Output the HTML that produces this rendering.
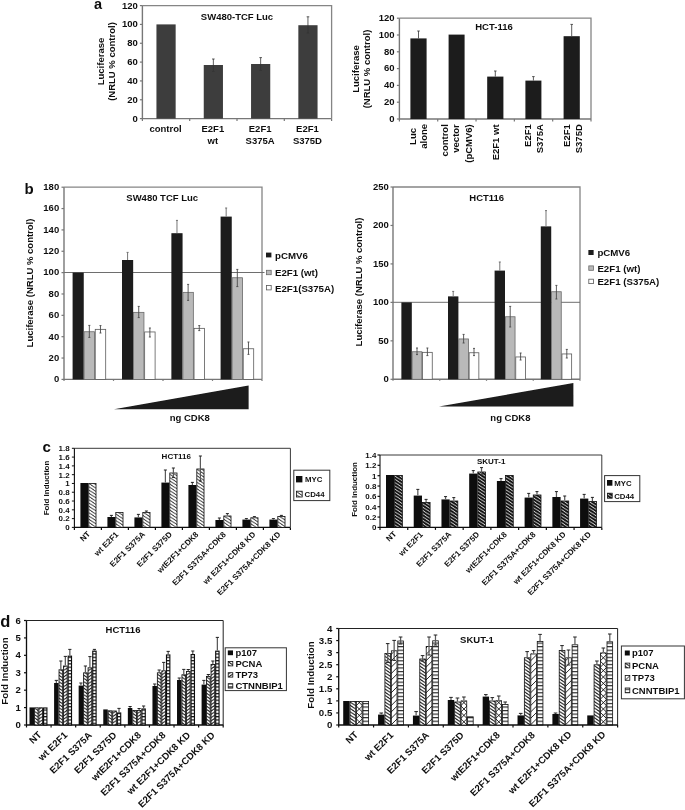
<!DOCTYPE html>
<html><head><meta charset="utf-8"><title>Figure</title>
<style>html,body{margin:0;padding:0;background:#fff;}svg{display:block;}text{font-family:"Liberation Sans",sans-serif;font-weight:bold;}</style>
</head><body>
<svg width="685" height="810" viewBox="0 0 685 810">
<rect width="685" height="810" fill="#fff"/>
<defs>
<filter id="soft" x="0" y="0" width="685" height="810" filterUnits="userSpaceOnUse"><feGaussianBlur stdDeviation="0.32"/></filter>
<pattern id="hc1" width="5" height="3.25" patternUnits="userSpaceOnUse"><rect width="5" height="3.25" fill="#fff"/><path d="M-5,-9.75 L10,0.00 M-5,-6.50 L10,3.25 M-5,-3.25 L10,6.50 M-5,0.00 L10,9.75 M-5,3.25 L10,13.00" stroke="#111" stroke-width="0.85"/></pattern>
<pattern id="hc2" width="5" height="3.25" patternUnits="userSpaceOnUse"><rect width="5" height="3.25" fill="#fff"/><path d="M-5,-9.75 L10,0.00 M-5,-6.50 L10,3.25 M-5,-3.25 L10,6.50 M-5,0.00 L10,9.75 M-5,3.25 L10,13.00" stroke="#111" stroke-width="2.0"/></pattern>
<pattern id="hd1" width="5" height="3.25" patternUnits="userSpaceOnUse"><rect width="5" height="3.25" fill="#fff"/><path d="M-5,-9.75 L10,0.00 M-5,-6.50 L10,3.25 M-5,-3.25 L10,6.50 M-5,0.00 L10,9.75 M-5,3.25 L10,13.00" stroke="#111" stroke-width="1.0"/></pattern>
<pattern id="hd2" width="5" height="3.25" patternUnits="userSpaceOnUse"><rect width="5" height="3.25" fill="#fff"/><path d="M-5,0.00 L10,-9.75 M-5,3.25 L10,-6.50 M-5,6.50 L10,-3.25 M-5,9.75 L10,0.00 M-5,13.00 L10,3.25" stroke="#111" stroke-width="1.0"/></pattern>
<pattern id="hd3" width="3.3" height="3.3" patternUnits="userSpaceOnUse"><rect width="3.3" height="3.3" fill="#fff"/><path d="M0,0.6 H3.3" stroke="#111" stroke-width="1.2"/></pattern>
<pattern id="he1" width="5" height="3.25" patternUnits="userSpaceOnUse"><rect width="5" height="3.25" fill="#fff"/><path d="M-5,-9.75 L10,0.00 M-5,-6.50 L10,3.25 M-5,-3.25 L10,6.50 M-5,0.00 L10,9.75 M-5,3.25 L10,13.00" stroke="#111" stroke-width="1.05"/></pattern>
<pattern id="he2" width="6.4" height="6.4" patternUnits="userSpaceOnUse"><rect width="6.4" height="6.4" fill="#fff"/><path d="M-1,7.4 L7.4,-1 M-1,1 L1,-1 M5.4,7.4 L7.4,5.4" stroke="#111" stroke-width="0.9"/></pattern>
<pattern id="he3" width="3.55" height="3.55" patternUnits="userSpaceOnUse"><rect width="3.55" height="3.55" fill="#fff"/><path d="M0,0.6 H3.55" stroke="#111" stroke-width="1.05"/></pattern>
</defs>
<g filter="url(#soft)">
<path d="M142.4,5.6 H331.6 V118.6" fill="none" stroke="#858585" stroke-width="1.3"/>
<path d="M142.4,5.6 V118.6 H331.6" fill="none" stroke="#777" stroke-width="1.4"/>
<line x1="139.9" y1="118.6" x2="142.4" y2="118.6" stroke="#777" stroke-width="1.2" />
<text x="137.8" y="121.62" font-size="9.5" text-anchor="end" fill="#111">0</text>
<line x1="139.9" y1="99.77" x2="142.4" y2="99.77" stroke="#777" stroke-width="1.2" />
<text x="137.8" y="102.79" font-size="9.5" text-anchor="end" fill="#111">20</text>
<line x1="139.9" y1="80.93" x2="142.4" y2="80.93" stroke="#777" stroke-width="1.2" />
<text x="137.8" y="83.95" font-size="9.5" text-anchor="end" fill="#111">40</text>
<line x1="139.9" y1="62.1" x2="142.4" y2="62.1" stroke="#777" stroke-width="1.2" />
<text x="137.8" y="65.12" font-size="9.5" text-anchor="end" fill="#111">60</text>
<line x1="139.9" y1="43.27" x2="142.4" y2="43.27" stroke="#777" stroke-width="1.2" />
<text x="137.8" y="46.29" font-size="9.5" text-anchor="end" fill="#111">80</text>
<line x1="139.9" y1="24.43" x2="142.4" y2="24.43" stroke="#777" stroke-width="1.2" />
<text x="137.8" y="27.45" font-size="9.5" text-anchor="end" fill="#111">100</text>
<line x1="139.9" y1="5.6" x2="142.4" y2="5.6" stroke="#777" stroke-width="1.2" />
<text x="137.8" y="8.62" font-size="9.5" text-anchor="end" fill="#111">120</text>
<line x1="142.4" y1="118.6" x2="142.4" y2="121.1" stroke="#777" stroke-width="1.2" />
<line x1="189.7" y1="118.6" x2="189.7" y2="121.1" stroke="#777" stroke-width="1.2" />
<line x1="237" y1="118.6" x2="237" y2="121.1" stroke="#777" stroke-width="1.2" />
<line x1="284.3" y1="118.6" x2="284.3" y2="121.1" stroke="#777" stroke-width="1.2" />
<line x1="331.6" y1="118.6" x2="331.6" y2="121.1" stroke="#777" stroke-width="1.2" />
<rect x="156.45" y="24.4" width="19.2" height="94.2" fill="#3d3d3d"/>
<rect x="203.75" y="65" width="19.2" height="53.6" fill="#3d3d3d"/>
<line x1="213.35" y1="59" x2="213.35" y2="71.5" stroke="#333" stroke-width="0.8" />
<line x1="212.05" y1="59" x2="214.65" y2="59" stroke="#333" stroke-width="0.8" />
<line x1="212.05" y1="71.5" x2="214.65" y2="71.5" stroke="#333" stroke-width="0.8" />
<rect x="251.05" y="64" width="19.2" height="54.6" fill="#3d3d3d"/>
<line x1="260.65" y1="57.6" x2="260.65" y2="70.4" stroke="#333" stroke-width="0.8" />
<line x1="259.35" y1="57.6" x2="261.95" y2="57.6" stroke="#333" stroke-width="0.8" />
<line x1="259.35" y1="70.4" x2="261.95" y2="70.4" stroke="#333" stroke-width="0.8" />
<rect x="298.35" y="25.2" width="19.2" height="93.4" fill="#3d3d3d"/>
<line x1="307.95" y1="16.8" x2="307.95" y2="33" stroke="#333" stroke-width="0.8" />
<line x1="306.65" y1="16.8" x2="309.25" y2="16.8" stroke="#333" stroke-width="0.8" />
<line x1="306.65" y1="33" x2="309.25" y2="33" stroke="#333" stroke-width="0.8" />
<text x="237" y="20.02" font-size="9.5" text-anchor="middle" fill="#111">SW480-TCF Luc</text>
<text x="165.55" y="132.42" font-size="9.5" text-anchor="middle" fill="#111">control</text>
<text x="212.85" y="132.42" font-size="9.5" text-anchor="middle" fill="#111">E2F1</text>
<text x="212.85" y="143.52" font-size="9.5" text-anchor="middle" fill="#111">wt</text>
<text x="260.15" y="132.42" font-size="9.5" text-anchor="middle" fill="#111">E2F1</text>
<text x="260.15" y="143.52" font-size="9.5" text-anchor="middle" fill="#111">S375A</text>
<text x="307.45" y="132.42" font-size="9.5" text-anchor="middle" fill="#111">E2F1</text>
<text x="307.45" y="143.52" font-size="9.5" text-anchor="middle" fill="#111">S375D</text>
<text x="103.52" y="61.5" font-size="9.5" text-anchor="middle" fill="#111" transform="rotate(-90 103.52 61.5)">Luciferase</text>
<text x="114.72" y="61.5" font-size="9.5" text-anchor="middle" fill="#111" transform="rotate(-90 114.72 61.5)">(NRLU % control)</text>
<text x="94" y="8.8" font-size="14.5" text-anchor="start" fill="#111">a</text>
<path d="M399.4,18.2 H591 V119" fill="none" stroke="#858585" stroke-width="1.3"/>
<path d="M399.4,18.2 V119 H591" fill="none" stroke="#777" stroke-width="1.4"/>
<line x1="396.9" y1="119" x2="399.4" y2="119" stroke="#777" stroke-width="1.2" />
<text x="394.6" y="121.82" font-size="9.5" text-anchor="end" fill="#111">0</text>
<line x1="396.9" y1="102.2" x2="399.4" y2="102.2" stroke="#777" stroke-width="1.2" />
<text x="394.6" y="105.02" font-size="9.5" text-anchor="end" fill="#111">20</text>
<line x1="396.9" y1="85.4" x2="399.4" y2="85.4" stroke="#777" stroke-width="1.2" />
<text x="394.6" y="88.22" font-size="9.5" text-anchor="end" fill="#111">40</text>
<line x1="396.9" y1="68.6" x2="399.4" y2="68.6" stroke="#777" stroke-width="1.2" />
<text x="394.6" y="71.42" font-size="9.5" text-anchor="end" fill="#111">60</text>
<line x1="396.9" y1="51.8" x2="399.4" y2="51.8" stroke="#777" stroke-width="1.2" />
<text x="394.6" y="54.62" font-size="9.5" text-anchor="end" fill="#111">80</text>
<line x1="396.9" y1="35" x2="399.4" y2="35" stroke="#777" stroke-width="1.2" />
<text x="394.6" y="37.82" font-size="9.5" text-anchor="end" fill="#111">100</text>
<line x1="396.9" y1="18.2" x2="399.4" y2="18.2" stroke="#777" stroke-width="1.2" />
<text x="394.6" y="21.02" font-size="9.5" text-anchor="end" fill="#111">120</text>
<line x1="399.4" y1="119" x2="399.4" y2="121.5" stroke="#777" stroke-width="1.2" />
<line x1="437.72" y1="119" x2="437.72" y2="121.5" stroke="#777" stroke-width="1.2" />
<line x1="476.04" y1="119" x2="476.04" y2="121.5" stroke="#777" stroke-width="1.2" />
<line x1="514.36" y1="119" x2="514.36" y2="121.5" stroke="#777" stroke-width="1.2" />
<line x1="552.68" y1="119" x2="552.68" y2="121.5" stroke="#777" stroke-width="1.2" />
<line x1="591" y1="119" x2="591" y2="121.5" stroke="#777" stroke-width="1.2" />
<rect x="410.4" y="38.4" width="16.2" height="80.6" fill="#1c1c1c"/>
<line x1="418.5" y1="31" x2="418.5" y2="38.4" stroke="#333" stroke-width="0.8" />
<line x1="417.2" y1="31" x2="419.8" y2="31" stroke="#333" stroke-width="0.8" />
<rect x="448.6" y="34.6" width="16" height="84.4" fill="#1c1c1c"/>
<rect x="487.2" y="76.6" width="16.2" height="42.4" fill="#1c1c1c"/>
<line x1="495.3" y1="71" x2="495.3" y2="76.6" stroke="#333" stroke-width="0.8" />
<line x1="494" y1="71" x2="496.6" y2="71" stroke="#333" stroke-width="0.8" />
<rect x="525.4" y="80.6" width="16" height="38.4" fill="#1c1c1c"/>
<line x1="533.4" y1="76.6" x2="533.4" y2="80.6" stroke="#333" stroke-width="0.8" />
<line x1="532.1" y1="76.6" x2="534.7" y2="76.6" stroke="#333" stroke-width="0.8" />
<rect x="563.6" y="36.2" width="16.2" height="82.8" fill="#1c1c1c"/>
<line x1="571.7" y1="24.4" x2="571.7" y2="36.2" stroke="#333" stroke-width="0.8" />
<line x1="570.4" y1="24.4" x2="573" y2="24.4" stroke="#333" stroke-width="0.8" />
<text x="494" y="30.42" font-size="9.5" text-anchor="middle" fill="#111">HCT-116</text>
<text x="358.82" y="69" font-size="9.5" text-anchor="middle" fill="#111" transform="rotate(-90 358.82 69)">Luciferase</text>
<text x="370.02" y="69" font-size="9.5" text-anchor="middle" fill="#111" transform="rotate(-90 370.02 69)">(NRLU % control)</text>
<text x="415.82" y="128" font-size="9.5" text-anchor="end" fill="#111" transform="rotate(-90 415.82 128)">Luc</text>
<text x="426.92" y="123.9" font-size="9.5" text-anchor="end" fill="#111" transform="rotate(-90 426.92 123.9)">alone</text>
<text x="448.22" y="124.2" font-size="9.5" text-anchor="end" fill="#111" transform="rotate(-90 448.22 124.2)">control</text>
<text x="459.22" y="124.2" font-size="9.5" text-anchor="end" fill="#111" transform="rotate(-90 459.22 124.2)">vector</text>
<text x="472.12" y="124.2" font-size="9.5" text-anchor="end" fill="#111" transform="rotate(-90 472.12 124.2)">(pCMV6)</text>
<text x="499.02" y="124.4" font-size="9.5" text-anchor="end" fill="#111" transform="rotate(-90 499.02 124.4)">E2F1 wt</text>
<text x="531.42" y="124.2" font-size="9.5" text-anchor="end" fill="#111" transform="rotate(-90 531.42 124.2)">E2F1</text>
<text x="543.42" y="124.2" font-size="9.5" text-anchor="end" fill="#111" transform="rotate(-90 543.42 124.2)">S375A</text>
<text x="570.02" y="124.2" font-size="9.5" text-anchor="end" fill="#111" transform="rotate(-90 570.02 124.2)">E2F1</text>
<text x="582.02" y="124.2" font-size="9.5" text-anchor="end" fill="#111" transform="rotate(-90 582.02 124.2)">S375D</text>
<path d="M64,187.2 H262 V379.4" fill="none" stroke="#858585" stroke-width="1.3"/>
<path d="M64,187.2 V379.4 H262" fill="none" stroke="#777" stroke-width="1.4"/>
<line x1="61.5" y1="379.4" x2="64" y2="379.4" stroke="#777" stroke-width="1.2" />
<text x="59.2" y="382.22" font-size="9.5" text-anchor="end" fill="#111">0</text>
<line x1="61.5" y1="358.04" x2="64" y2="358.04" stroke="#777" stroke-width="1.2" />
<text x="59.2" y="360.86" font-size="9.5" text-anchor="end" fill="#111">20</text>
<line x1="61.5" y1="336.69" x2="64" y2="336.69" stroke="#777" stroke-width="1.2" />
<text x="59.2" y="339.51" font-size="9.5" text-anchor="end" fill="#111">40</text>
<line x1="61.5" y1="315.33" x2="64" y2="315.33" stroke="#777" stroke-width="1.2" />
<text x="59.2" y="318.15" font-size="9.5" text-anchor="end" fill="#111">60</text>
<line x1="61.5" y1="293.98" x2="64" y2="293.98" stroke="#777" stroke-width="1.2" />
<text x="59.2" y="296.8" font-size="9.5" text-anchor="end" fill="#111">80</text>
<line x1="61.5" y1="272.62" x2="64" y2="272.62" stroke="#777" stroke-width="1.2" />
<text x="59.2" y="275.44" font-size="9.5" text-anchor="end" fill="#111">100</text>
<line x1="61.5" y1="251.27" x2="64" y2="251.27" stroke="#777" stroke-width="1.2" />
<text x="59.2" y="254.09" font-size="9.5" text-anchor="end" fill="#111">120</text>
<line x1="61.5" y1="229.91" x2="64" y2="229.91" stroke="#777" stroke-width="1.2" />
<text x="59.2" y="232.73" font-size="9.5" text-anchor="end" fill="#111">140</text>
<line x1="61.5" y1="208.56" x2="64" y2="208.56" stroke="#777" stroke-width="1.2" />
<text x="59.2" y="211.38" font-size="9.5" text-anchor="end" fill="#111">160</text>
<line x1="61.5" y1="187.2" x2="64" y2="187.2" stroke="#777" stroke-width="1.2" />
<text x="59.2" y="190.02" font-size="9.5" text-anchor="end" fill="#111">180</text>
<line x1="64" y1="379.4" x2="64" y2="380.9" stroke="#777" stroke-width="1.2" />
<line x1="113.5" y1="379.4" x2="113.5" y2="380.9" stroke="#777" stroke-width="1.2" />
<line x1="163" y1="379.4" x2="163" y2="380.9" stroke="#777" stroke-width="1.2" />
<line x1="212.5" y1="379.4" x2="212.5" y2="380.9" stroke="#777" stroke-width="1.2" />
<line x1="262" y1="379.4" x2="262" y2="380.9" stroke="#777" stroke-width="1.2" />
<line x1="64" y1="272.5" x2="264.5" y2="272.5" stroke="#6e6e6e" stroke-width="1" />
<rect x="72.6" y="272.6" width="11.15" height="106.8" fill="#1a1a1a"/>
<rect x="84.1" y="331.75" width="10.45" height="47.65" fill="#b9b9b9" stroke="#6a6a6a" stroke-width="0.8"/>
<line x1="89.33" y1="325.4" x2="89.33" y2="337.4" stroke="#4a4a4a" stroke-width="0.9" />
<line x1="88.33" y1="325.4" x2="90.33" y2="325.4" stroke="#4a4a4a" stroke-width="0.9" />
<line x1="88.33" y1="337.4" x2="90.33" y2="337.4" stroke="#4a4a4a" stroke-width="0.9" />
<rect x="95.25" y="329.35" width="10.45" height="50.05" fill="#fff" stroke="#5a5a5a" stroke-width="0.8"/>
<line x1="100.47" y1="325.6" x2="100.47" y2="333" stroke="#4a4a4a" stroke-width="0.9" />
<line x1="99.47" y1="325.6" x2="101.47" y2="325.6" stroke="#4a4a4a" stroke-width="0.9" />
<line x1="99.47" y1="333" x2="101.47" y2="333" stroke="#4a4a4a" stroke-width="0.9" />
<rect x="122" y="260" width="11.15" height="119.4" fill="#1a1a1a"/>
<line x1="127.58" y1="252.4" x2="127.58" y2="260" stroke="#666" stroke-width="0.9" />
<line x1="126.58" y1="252.4" x2="128.57" y2="252.4" stroke="#666" stroke-width="0.9" />
<rect x="133.5" y="312.35" width="10.45" height="67.05" fill="#b9b9b9" stroke="#6a6a6a" stroke-width="0.8"/>
<line x1="138.72" y1="306.4" x2="138.72" y2="317.6" stroke="#4a4a4a" stroke-width="0.9" />
<line x1="137.72" y1="306.4" x2="139.72" y2="306.4" stroke="#4a4a4a" stroke-width="0.9" />
<line x1="137.72" y1="317.6" x2="139.72" y2="317.6" stroke="#4a4a4a" stroke-width="0.9" />
<rect x="144.65" y="331.95" width="10.45" height="47.45" fill="#fff" stroke="#5a5a5a" stroke-width="0.8"/>
<line x1="149.88" y1="328" x2="149.88" y2="337" stroke="#4a4a4a" stroke-width="0.9" />
<line x1="148.88" y1="328" x2="150.88" y2="328" stroke="#4a4a4a" stroke-width="0.9" />
<line x1="148.88" y1="337" x2="150.88" y2="337" stroke="#4a4a4a" stroke-width="0.9" />
<rect x="171.4" y="233.2" width="11.15" height="146.2" fill="#1a1a1a"/>
<line x1="176.97" y1="220.4" x2="176.97" y2="233.2" stroke="#666" stroke-width="0.9" />
<line x1="175.97" y1="220.4" x2="177.97" y2="220.4" stroke="#666" stroke-width="0.9" />
<rect x="182.9" y="292.35" width="10.45" height="87.05" fill="#b9b9b9" stroke="#6a6a6a" stroke-width="0.8"/>
<line x1="188.12" y1="284.4" x2="188.12" y2="300.4" stroke="#4a4a4a" stroke-width="0.9" />
<line x1="187.12" y1="284.4" x2="189.12" y2="284.4" stroke="#4a4a4a" stroke-width="0.9" />
<line x1="187.12" y1="300.4" x2="189.12" y2="300.4" stroke="#4a4a4a" stroke-width="0.9" />
<rect x="194.05" y="328.35" width="10.45" height="51.05" fill="#fff" stroke="#5a5a5a" stroke-width="0.8"/>
<line x1="199.28" y1="325.6" x2="199.28" y2="330.6" stroke="#4a4a4a" stroke-width="0.9" />
<line x1="198.28" y1="325.6" x2="200.28" y2="325.6" stroke="#4a4a4a" stroke-width="0.9" />
<line x1="198.28" y1="330.6" x2="200.28" y2="330.6" stroke="#4a4a4a" stroke-width="0.9" />
<rect x="220.6" y="216.6" width="11.15" height="162.8" fill="#1a1a1a"/>
<line x1="226.17" y1="208" x2="226.17" y2="216.6" stroke="#666" stroke-width="0.9" />
<line x1="225.17" y1="208" x2="227.17" y2="208" stroke="#666" stroke-width="0.9" />
<rect x="232.1" y="277.75" width="10.45" height="101.65" fill="#b9b9b9" stroke="#6a6a6a" stroke-width="0.8"/>
<line x1="237.32" y1="269.4" x2="237.32" y2="286.6" stroke="#4a4a4a" stroke-width="0.9" />
<line x1="236.32" y1="269.4" x2="238.32" y2="269.4" stroke="#4a4a4a" stroke-width="0.9" />
<line x1="236.32" y1="286.6" x2="238.32" y2="286.6" stroke="#4a4a4a" stroke-width="0.9" />
<rect x="243.25" y="348.75" width="10.45" height="30.65" fill="#fff" stroke="#5a5a5a" stroke-width="0.8"/>
<line x1="248.47" y1="342" x2="248.47" y2="354.4" stroke="#4a4a4a" stroke-width="0.9" />
<line x1="247.47" y1="342" x2="249.47" y2="342" stroke="#4a4a4a" stroke-width="0.9" />
<line x1="247.47" y1="354.4" x2="249.47" y2="354.4" stroke="#4a4a4a" stroke-width="0.9" />
<text x="162.2" y="201.42" font-size="9.5" text-anchor="middle" fill="#111">SW480 TCF Luc</text>
<text x="32.82" y="283" font-size="9.5" text-anchor="middle" fill="#111" transform="rotate(-90 32.82 283)">Luciferase (NRLU % control)</text>
<polygon points="114,409.3 248.6,385.6 248.6,409.3" fill="#1a1a1a"/>
<text x="189.8" y="421.42" font-size="9.5" text-anchor="middle" fill="#111">ng CDK8</text>
<text x="24.6" y="194.2" font-size="15" text-anchor="start" fill="#111">b</text>
<rect x="266" y="252.6" width="5.4" height="4.8" fill="#1a1a1a"/>
<rect x="266.4" y="270.3" width="4.8" height="4.4" fill="#b9b9b9" stroke="#6a6a6a" stroke-width="0.8"/>
<rect x="266.4" y="285.5" width="4.8" height="4.4" fill="#fff" stroke="#5a5a5a" stroke-width="0.8"/>
<text x="275" y="258.89" font-size="9.7" text-anchor="start" fill="#111">pCMV6</text>
<text x="275" y="276.29" font-size="9.7" text-anchor="start" fill="#111">E2F1 (wt)</text>
<text x="275" y="291.69" font-size="9.7" text-anchor="start" fill="#111">E2F1(S375A)</text>
<path d="M393,187 H580 V379.3" fill="none" stroke="#858585" stroke-width="1.3"/>
<path d="M393,187 V379.3 H580" fill="none" stroke="#777" stroke-width="1.4"/>
<line x1="390.5" y1="379.3" x2="393" y2="379.3" stroke="#777" stroke-width="1.2" />
<text x="388.8" y="382.22" font-size="9.5" text-anchor="end" fill="#111">0</text>
<line x1="390.5" y1="340.84" x2="393" y2="340.84" stroke="#777" stroke-width="1.2" />
<text x="388.8" y="343.76" font-size="9.5" text-anchor="end" fill="#111">50</text>
<line x1="390.5" y1="302.38" x2="393" y2="302.38" stroke="#777" stroke-width="1.2" />
<text x="388.8" y="305.3" font-size="9.5" text-anchor="end" fill="#111">100</text>
<line x1="390.5" y1="263.92" x2="393" y2="263.92" stroke="#777" stroke-width="1.2" />
<text x="388.8" y="266.84" font-size="9.5" text-anchor="end" fill="#111">150</text>
<line x1="390.5" y1="225.46" x2="393" y2="225.46" stroke="#777" stroke-width="1.2" />
<text x="388.8" y="228.38" font-size="9.5" text-anchor="end" fill="#111">200</text>
<line x1="390.5" y1="187" x2="393" y2="187" stroke="#777" stroke-width="1.2" />
<text x="388.8" y="189.92" font-size="9.5" text-anchor="end" fill="#111">250</text>
<line x1="393" y1="379.3" x2="393" y2="380.8" stroke="#777" stroke-width="1.2" />
<line x1="439.75" y1="379.3" x2="439.75" y2="380.8" stroke="#777" stroke-width="1.2" />
<line x1="486.5" y1="379.3" x2="486.5" y2="380.8" stroke="#777" stroke-width="1.2" />
<line x1="533.25" y1="379.3" x2="533.25" y2="380.8" stroke="#777" stroke-width="1.2" />
<line x1="580" y1="379.3" x2="580" y2="380.8" stroke="#777" stroke-width="1.2" />
<line x1="393" y1="302.3" x2="580" y2="302.3" stroke="#6e6e6e" stroke-width="1" />
<rect x="401.4" y="302.4" width="10.4" height="76.9" fill="#1a1a1a"/>
<rect x="412.15" y="351.75" width="9.7" height="27.55" fill="#b9b9b9" stroke="#6a6a6a" stroke-width="0.8"/>
<line x1="417" y1="348" x2="417" y2="354.6" stroke="#4a4a4a" stroke-width="0.9" />
<line x1="416" y1="348" x2="418" y2="348" stroke="#4a4a4a" stroke-width="0.9" />
<line x1="416" y1="354.6" x2="418" y2="354.6" stroke="#4a4a4a" stroke-width="0.9" />
<rect x="422.55" y="352.35" width="9.7" height="26.95" fill="#fff" stroke="#5a5a5a" stroke-width="0.8"/>
<line x1="427.4" y1="348" x2="427.4" y2="355.6" stroke="#4a4a4a" stroke-width="0.9" />
<line x1="426.4" y1="348" x2="428.4" y2="348" stroke="#4a4a4a" stroke-width="0.9" />
<line x1="426.4" y1="355.6" x2="428.4" y2="355.6" stroke="#4a4a4a" stroke-width="0.9" />
<rect x="448" y="296.4" width="10.4" height="82.9" fill="#1a1a1a"/>
<line x1="453.2" y1="291.4" x2="453.2" y2="296.4" stroke="#666" stroke-width="0.9" />
<line x1="452.2" y1="291.4" x2="454.2" y2="291.4" stroke="#666" stroke-width="0.9" />
<rect x="458.75" y="338.95" width="9.7" height="40.35" fill="#b9b9b9" stroke="#6a6a6a" stroke-width="0.8"/>
<line x1="463.6" y1="334.4" x2="463.6" y2="343" stroke="#4a4a4a" stroke-width="0.9" />
<line x1="462.6" y1="334.4" x2="464.6" y2="334.4" stroke="#4a4a4a" stroke-width="0.9" />
<line x1="462.6" y1="343" x2="464.6" y2="343" stroke="#4a4a4a" stroke-width="0.9" />
<rect x="469.15" y="352.75" width="9.7" height="26.55" fill="#fff" stroke="#5a5a5a" stroke-width="0.8"/>
<line x1="474" y1="348.4" x2="474" y2="355.6" stroke="#4a4a4a" stroke-width="0.9" />
<line x1="473" y1="348.4" x2="475" y2="348.4" stroke="#4a4a4a" stroke-width="0.9" />
<line x1="473" y1="355.6" x2="475" y2="355.6" stroke="#4a4a4a" stroke-width="0.9" />
<rect x="494.6" y="270.6" width="10.4" height="108.7" fill="#1a1a1a"/>
<line x1="499.8" y1="262" x2="499.8" y2="270.6" stroke="#666" stroke-width="0.9" />
<line x1="498.8" y1="262" x2="500.8" y2="262" stroke="#666" stroke-width="0.9" />
<rect x="505.35" y="316.75" width="9.7" height="62.55" fill="#b9b9b9" stroke="#6a6a6a" stroke-width="0.8"/>
<line x1="510.2" y1="306.4" x2="510.2" y2="327" stroke="#4a4a4a" stroke-width="0.9" />
<line x1="509.2" y1="306.4" x2="511.2" y2="306.4" stroke="#4a4a4a" stroke-width="0.9" />
<line x1="509.2" y1="327" x2="511.2" y2="327" stroke="#4a4a4a" stroke-width="0.9" />
<rect x="515.75" y="356.95" width="9.7" height="22.35" fill="#fff" stroke="#5a5a5a" stroke-width="0.8"/>
<line x1="520.6" y1="353" x2="520.6" y2="360" stroke="#4a4a4a" stroke-width="0.9" />
<line x1="519.6" y1="353" x2="521.6" y2="353" stroke="#4a4a4a" stroke-width="0.9" />
<line x1="519.6" y1="360" x2="521.6" y2="360" stroke="#4a4a4a" stroke-width="0.9" />
<rect x="540.8" y="226.4" width="10.4" height="152.9" fill="#1a1a1a"/>
<line x1="546" y1="210.6" x2="546" y2="226.4" stroke="#666" stroke-width="0.9" />
<line x1="545" y1="210.6" x2="547" y2="210.6" stroke="#666" stroke-width="0.9" />
<rect x="551.55" y="291.75" width="9.7" height="87.55" fill="#b9b9b9" stroke="#6a6a6a" stroke-width="0.8"/>
<line x1="556.4" y1="285.4" x2="556.4" y2="299" stroke="#4a4a4a" stroke-width="0.9" />
<line x1="555.4" y1="285.4" x2="557.4" y2="285.4" stroke="#4a4a4a" stroke-width="0.9" />
<line x1="555.4" y1="299" x2="557.4" y2="299" stroke="#4a4a4a" stroke-width="0.9" />
<rect x="561.95" y="353.95" width="9.7" height="25.35" fill="#fff" stroke="#5a5a5a" stroke-width="0.8"/>
<line x1="566.8" y1="349.4" x2="566.8" y2="358" stroke="#4a4a4a" stroke-width="0.9" />
<line x1="565.8" y1="349.4" x2="567.8" y2="349.4" stroke="#4a4a4a" stroke-width="0.9" />
<line x1="565.8" y1="358" x2="567.8" y2="358" stroke="#4a4a4a" stroke-width="0.9" />
<text x="486.7" y="201.42" font-size="9.5" text-anchor="middle" fill="#111">HCT116</text>
<text x="362.02" y="282" font-size="9.5" text-anchor="middle" fill="#111" transform="rotate(-90 362.02 282)">Luciferase (NRLU % control)</text>
<polygon points="439,406.6 573.4,383 573.4,406.6" fill="#1a1a1a"/>
<text x="510.4" y="421.42" font-size="9.5" text-anchor="middle" fill="#111">ng CDK8</text>
<rect x="588.4" y="250" width="5.2" height="5" fill="#1a1a1a"/>
<rect x="588.8" y="265.9" width="4.6" height="4.4" fill="#b9b9b9" stroke="#6a6a6a" stroke-width="0.8"/>
<rect x="588.8" y="279.2" width="4.6" height="4.4" fill="#fff" stroke="#5a5a5a" stroke-width="0.8"/>
<text x="597.4" y="256.29" font-size="9.7" text-anchor="start" fill="#111">pCMV6</text>
<text x="597.4" y="271.69" font-size="9.7" text-anchor="start" fill="#111">E2F1 (wt)</text>
<text x="597.4" y="285.09" font-size="9.7" text-anchor="start" fill="#111">E2F1 (S375A)</text>
<path d="M74.4,448.3 H290.4 V527.4" fill="none" stroke="#3a3a3a" stroke-width="1"/>
<path d="M74.4,448.3 V527.4 H290.4" fill="none" stroke="#111" stroke-width="1.1"/>
<line x1="71.9" y1="527.4" x2="74.4" y2="527.4" stroke="#111" stroke-width="1" />
<text x="69.6" y="530.26" font-size="7.95" text-anchor="end" fill="#111">0</text>
<line x1="71.9" y1="518.61" x2="74.4" y2="518.61" stroke="#111" stroke-width="1" />
<text x="69.6" y="521.47" font-size="7.95" text-anchor="end" fill="#111">0.2</text>
<line x1="71.9" y1="509.82" x2="74.4" y2="509.82" stroke="#111" stroke-width="1" />
<text x="69.6" y="512.68" font-size="7.95" text-anchor="end" fill="#111">0.4</text>
<line x1="71.9" y1="501.03" x2="74.4" y2="501.03" stroke="#111" stroke-width="1" />
<text x="69.6" y="503.9" font-size="7.95" text-anchor="end" fill="#111">0.6</text>
<line x1="71.9" y1="492.24" x2="74.4" y2="492.24" stroke="#111" stroke-width="1" />
<text x="69.6" y="495.11" font-size="7.95" text-anchor="end" fill="#111">0.8</text>
<line x1="71.9" y1="483.46" x2="74.4" y2="483.46" stroke="#111" stroke-width="1" />
<text x="69.6" y="486.32" font-size="7.95" text-anchor="end" fill="#111">1</text>
<line x1="71.9" y1="474.67" x2="74.4" y2="474.67" stroke="#111" stroke-width="1" />
<text x="69.6" y="477.53" font-size="7.95" text-anchor="end" fill="#111">1.2</text>
<line x1="71.9" y1="465.88" x2="74.4" y2="465.88" stroke="#111" stroke-width="1" />
<text x="69.6" y="468.74" font-size="7.95" text-anchor="end" fill="#111">1.4</text>
<line x1="71.9" y1="457.09" x2="74.4" y2="457.09" stroke="#111" stroke-width="1" />
<text x="69.6" y="459.95" font-size="7.95" text-anchor="end" fill="#111">1.6</text>
<line x1="71.9" y1="448.3" x2="74.4" y2="448.3" stroke="#111" stroke-width="1" />
<text x="69.6" y="451.16" font-size="7.95" text-anchor="end" fill="#111">1.8</text>
<line x1="74.4" y1="527.4" x2="74.4" y2="529.9" stroke="#111" stroke-width="1.2" />
<line x1="101.4" y1="527.4" x2="101.4" y2="529.9" stroke="#111" stroke-width="1.2" />
<line x1="128.4" y1="527.4" x2="128.4" y2="529.9" stroke="#111" stroke-width="1.2" />
<line x1="155.4" y1="527.4" x2="155.4" y2="529.9" stroke="#111" stroke-width="1.2" />
<line x1="182.4" y1="527.4" x2="182.4" y2="529.9" stroke="#111" stroke-width="1.2" />
<line x1="209.4" y1="527.4" x2="209.4" y2="529.9" stroke="#111" stroke-width="1.2" />
<line x1="236.4" y1="527.4" x2="236.4" y2="529.9" stroke="#111" stroke-width="1.2" />
<line x1="263.4" y1="527.4" x2="263.4" y2="529.9" stroke="#111" stroke-width="1.2" />
<line x1="290.4" y1="527.4" x2="290.4" y2="529.9" stroke="#111" stroke-width="1.2" />
<rect x="80.4" y="483" width="8" height="44.4" fill="#111"/>
<rect x="88.8" y="483.4" width="7.2" height="44" fill="url(#hc1)" stroke="#111" stroke-width="0.8"/>
<rect x="107.4" y="517" width="8" height="10.4" fill="#111"/>
<line x1="111.4" y1="515.4" x2="111.4" y2="517" stroke="#5a5a5a" stroke-width="1.25" />
<line x1="109.9" y1="515.4" x2="112.9" y2="515.4" stroke="#222" stroke-width="1.0" />
<rect x="115.8" y="512.4" width="7.2" height="15" fill="url(#hc1)" stroke="#111" stroke-width="0.8"/>
<rect x="134.4" y="517.4" width="8" height="10" fill="#111"/>
<line x1="138.4" y1="514.4" x2="138.4" y2="517.4" stroke="#5a5a5a" stroke-width="1.25" />
<line x1="136.9" y1="514.4" x2="139.9" y2="514.4" stroke="#222" stroke-width="1.0" />
<rect x="142.8" y="512.4" width="7.2" height="15" fill="url(#hc1)" stroke="#111" stroke-width="0.8"/>
<line x1="146.4" y1="511" x2="146.4" y2="512" stroke="#5a5a5a" stroke-width="1.25" />
<line x1="144.9" y1="511" x2="147.9" y2="511" stroke="#222" stroke-width="1.0" />
<rect x="161.4" y="482.6" width="8" height="44.8" fill="#111"/>
<line x1="165.4" y1="470" x2="165.4" y2="482.6" stroke="#5a5a5a" stroke-width="1.25" />
<line x1="163.9" y1="470" x2="166.9" y2="470" stroke="#222" stroke-width="1.0" />
<rect x="169.8" y="473" width="7.2" height="54.4" fill="url(#hc1)" stroke="#111" stroke-width="0.8"/>
<line x1="173.4" y1="468" x2="173.4" y2="477.4" stroke="#5a5a5a" stroke-width="1.25" />
<line x1="171.9" y1="468" x2="174.9" y2="468" stroke="#222" stroke-width="1.0" />
<line x1="171.9" y1="477.4" x2="174.9" y2="477.4" stroke="#222" stroke-width="1.0" />
<rect x="188.4" y="485" width="8" height="42.4" fill="#111"/>
<line x1="192.4" y1="482.4" x2="192.4" y2="485" stroke="#5a5a5a" stroke-width="1.25" />
<line x1="190.9" y1="482.4" x2="193.9" y2="482.4" stroke="#222" stroke-width="1.0" />
<rect x="196.8" y="469" width="7.2" height="58.4" fill="url(#hc1)" stroke="#111" stroke-width="0.8"/>
<line x1="200.4" y1="456" x2="200.4" y2="481" stroke="#5a5a5a" stroke-width="1.25" />
<line x1="198.9" y1="456" x2="201.9" y2="456" stroke="#222" stroke-width="1.0" />
<line x1="198.9" y1="481" x2="201.9" y2="481" stroke="#222" stroke-width="1.0" />
<rect x="215.4" y="520" width="8" height="7.4" fill="#111"/>
<line x1="219.4" y1="518" x2="219.4" y2="520" stroke="#5a5a5a" stroke-width="1.25" />
<line x1="217.9" y1="518" x2="220.9" y2="518" stroke="#222" stroke-width="1.0" />
<rect x="223.8" y="516" width="7.2" height="11.4" fill="url(#hc1)" stroke="#111" stroke-width="0.8"/>
<line x1="227.4" y1="513.6" x2="227.4" y2="515.6" stroke="#5a5a5a" stroke-width="1.25" />
<line x1="225.9" y1="513.6" x2="228.9" y2="513.6" stroke="#222" stroke-width="1.0" />
<rect x="242.4" y="519.6" width="8" height="7.8" fill="#111"/>
<line x1="246.4" y1="518.6" x2="246.4" y2="519.6" stroke="#5a5a5a" stroke-width="1.25" />
<line x1="244.9" y1="518.6" x2="247.9" y2="518.6" stroke="#222" stroke-width="1.0" />
<rect x="250.8" y="517.8" width="7.2" height="9.6" fill="url(#hc1)" stroke="#111" stroke-width="0.8"/>
<line x1="254.4" y1="516.6" x2="254.4" y2="517.4" stroke="#5a5a5a" stroke-width="1.25" />
<line x1="252.9" y1="516.6" x2="255.9" y2="516.6" stroke="#222" stroke-width="1.0" />
<rect x="269.4" y="519.6" width="8" height="7.8" fill="#111"/>
<line x1="273.4" y1="518.6" x2="273.4" y2="519.6" stroke="#5a5a5a" stroke-width="1.25" />
<line x1="271.9" y1="518.6" x2="274.9" y2="518.6" stroke="#222" stroke-width="1.0" />
<rect x="277.8" y="516.4" width="7.2" height="11" fill="url(#hc1)" stroke="#111" stroke-width="0.8"/>
<line x1="281.4" y1="515.4" x2="281.4" y2="516" stroke="#5a5a5a" stroke-width="1.25" />
<line x1="279.9" y1="515.4" x2="282.9" y2="515.4" stroke="#222" stroke-width="1.0" />
<text x="176.3" y="459.48" font-size="8" text-anchor="middle" fill="#111">HCT116</text>
<text x="49.46" y="488" font-size="7.95" text-anchor="middle" fill="#111" transform="rotate(-90 49.46 488)">Fold Induction</text>
<text x="42.6" y="452.2" font-size="15" text-anchor="start" fill="#111">c</text>
<text x="90.7" y="534.5" font-size="8.0" text-anchor="end" fill="#111" transform="rotate(-45 90.7 534.5)">NT</text>
<text x="119" y="535" font-size="8.0" text-anchor="end" fill="#111" transform="rotate(-45 119 535)">wt E2F1</text>
<text x="145.5" y="535" font-size="8.0" text-anchor="end" fill="#111" transform="rotate(-45 145.5 535)">E2F1 S375A</text>
<text x="172.5" y="535" font-size="8.0" text-anchor="end" fill="#111" transform="rotate(-45 172.5 535)">E2F1 S375D</text>
<text x="199" y="535" font-size="8.0" text-anchor="end" fill="#111" transform="rotate(-45 199 535)">wtE2F1+CDK8</text>
<text x="226.5" y="535" font-size="8.0" text-anchor="end" fill="#111" transform="rotate(-45 226.5 535)">E2F1 S375A+CDK8</text>
<text x="256" y="535" font-size="8.0" text-anchor="end" fill="#111" transform="rotate(-45 256 535)">wt E2F1+CDK8 KD</text>
<text x="281.2" y="535" font-size="8.0" text-anchor="end" fill="#111" transform="rotate(-45 281.2 535)">E2F1 S375A+CDK8 KD</text>
<rect x="293.8" y="470.2" width="36" height="30.4" fill="#fff" stroke="#333" stroke-width="1"/>
<rect x="296" y="476" width="6.4" height="6.4" fill="#111"/>
<rect x="296.4" y="491.2" width="5.8" height="5.8" fill="url(#hc1)" stroke="#111" stroke-width="0.8"/>
<text x="305" y="482.21" font-size="7.8" text-anchor="start" fill="#111">MYC</text>
<text x="304.6" y="496.81" font-size="7.8" text-anchor="start" fill="#111">CD44</text>
<path d="M380,455 H601.8 V527.4" fill="none" stroke="#3a3a3a" stroke-width="1"/>
<path d="M380,455 V527.4 H601.8" fill="none" stroke="#111" stroke-width="1.1"/>
<line x1="377.5" y1="527.4" x2="380" y2="527.4" stroke="#111" stroke-width="1.2" />
<text x="376.4" y="530.26" font-size="7.95" text-anchor="end" fill="#111">0</text>
<line x1="377.5" y1="517.06" x2="380" y2="517.06" stroke="#111" stroke-width="1.2" />
<text x="376.4" y="519.92" font-size="7.95" text-anchor="end" fill="#111">0.2</text>
<line x1="377.5" y1="506.71" x2="380" y2="506.71" stroke="#111" stroke-width="1.2" />
<text x="376.4" y="509.58" font-size="7.95" text-anchor="end" fill="#111">0.4</text>
<line x1="377.5" y1="496.37" x2="380" y2="496.37" stroke="#111" stroke-width="1.2" />
<text x="376.4" y="499.23" font-size="7.95" text-anchor="end" fill="#111">0.6</text>
<line x1="377.5" y1="486.03" x2="380" y2="486.03" stroke="#111" stroke-width="1.2" />
<text x="376.4" y="488.89" font-size="7.95" text-anchor="end" fill="#111">0.8</text>
<line x1="377.5" y1="475.69" x2="380" y2="475.69" stroke="#111" stroke-width="1.2" />
<text x="376.4" y="478.55" font-size="7.95" text-anchor="end" fill="#111">1</text>
<line x1="377.5" y1="465.34" x2="380" y2="465.34" stroke="#111" stroke-width="1.2" />
<text x="376.4" y="468.2" font-size="7.95" text-anchor="end" fill="#111">1.2</text>
<line x1="377.5" y1="455" x2="380" y2="455" stroke="#111" stroke-width="1.2" />
<text x="376.4" y="457.86" font-size="7.95" text-anchor="end" fill="#111">1.4</text>
<line x1="380" y1="527.4" x2="380" y2="529.9" stroke="#111" stroke-width="1.2" />
<line x1="407.73" y1="527.4" x2="407.73" y2="529.9" stroke="#111" stroke-width="1.2" />
<line x1="435.45" y1="527.4" x2="435.45" y2="529.9" stroke="#111" stroke-width="1.2" />
<line x1="463.17" y1="527.4" x2="463.17" y2="529.9" stroke="#111" stroke-width="1.2" />
<line x1="490.9" y1="527.4" x2="490.9" y2="529.9" stroke="#111" stroke-width="1.2" />
<line x1="518.62" y1="527.4" x2="518.62" y2="529.9" stroke="#111" stroke-width="1.2" />
<line x1="546.35" y1="527.4" x2="546.35" y2="529.9" stroke="#111" stroke-width="1.2" />
<line x1="574.07" y1="527.4" x2="574.07" y2="529.9" stroke="#111" stroke-width="1.2" />
<line x1="601.8" y1="527.4" x2="601.8" y2="529.9" stroke="#111" stroke-width="1.2" />
<rect x="386" y="475" width="8.25" height="52.4" fill="#111"/>
<rect x="394.65" y="475.4" width="7.7" height="52" fill="url(#hc2)" stroke="#111" stroke-width="0.8"/>
<rect x="413.73" y="495.6" width="8.25" height="31.8" fill="#111"/>
<line x1="417.83" y1="489.4" x2="417.83" y2="495.6" stroke="#5a5a5a" stroke-width="1.25" />
<line x1="416.33" y1="489.4" x2="419.33" y2="489.4" stroke="#222" stroke-width="1.0" />
<rect x="422.38" y="502.4" width="7.7" height="25" fill="url(#hc2)" stroke="#111" stroke-width="0.8"/>
<line x1="426.08" y1="499.4" x2="426.08" y2="502" stroke="#5a5a5a" stroke-width="1.25" />
<line x1="424.58" y1="499.4" x2="427.58" y2="499.4" stroke="#222" stroke-width="1.0" />
<rect x="441.45" y="499.4" width="8.25" height="28" fill="#111"/>
<line x1="445.55" y1="496.6" x2="445.55" y2="499.4" stroke="#5a5a5a" stroke-width="1.25" />
<line x1="444.05" y1="496.6" x2="447.05" y2="496.6" stroke="#222" stroke-width="1.0" />
<rect x="450.1" y="501" width="7.7" height="26.4" fill="url(#hc2)" stroke="#111" stroke-width="0.8"/>
<line x1="453.8" y1="497.6" x2="453.8" y2="500.6" stroke="#5a5a5a" stroke-width="1.25" />
<line x1="452.3" y1="497.6" x2="455.3" y2="497.6" stroke="#222" stroke-width="1.0" />
<rect x="469.17" y="473.6" width="8.25" height="53.8" fill="#111"/>
<line x1="473.27" y1="470.6" x2="473.27" y2="473.6" stroke="#5a5a5a" stroke-width="1.25" />
<line x1="471.77" y1="470.6" x2="474.77" y2="470.6" stroke="#222" stroke-width="1.0" />
<rect x="477.82" y="472" width="7.7" height="55.4" fill="url(#hc2)" stroke="#111" stroke-width="0.8"/>
<line x1="481.52" y1="467.6" x2="481.52" y2="475" stroke="#5a5a5a" stroke-width="1.25" />
<line x1="480.02" y1="467.6" x2="483.02" y2="467.6" stroke="#222" stroke-width="1.0" />
<line x1="480.02" y1="475" x2="483.02" y2="475" stroke="#222" stroke-width="1.0" />
<rect x="496.9" y="481" width="8.25" height="46.4" fill="#111"/>
<line x1="501" y1="478.6" x2="501" y2="481" stroke="#5a5a5a" stroke-width="1.25" />
<line x1="499.5" y1="478.6" x2="502.5" y2="478.6" stroke="#222" stroke-width="1.0" />
<rect x="505.55" y="475.4" width="7.7" height="52" fill="url(#hc2)" stroke="#111" stroke-width="0.8"/>
<rect x="524.62" y="497.6" width="8.25" height="29.8" fill="#111"/>
<line x1="528.73" y1="493.4" x2="528.73" y2="497.6" stroke="#5a5a5a" stroke-width="1.25" />
<line x1="527.23" y1="493.4" x2="530.23" y2="493.4" stroke="#222" stroke-width="1.0" />
<rect x="533.27" y="495" width="7.7" height="32.4" fill="url(#hc2)" stroke="#111" stroke-width="0.8"/>
<line x1="536.98" y1="491.6" x2="536.98" y2="494.6" stroke="#5a5a5a" stroke-width="1.25" />
<line x1="535.48" y1="491.6" x2="538.48" y2="491.6" stroke="#222" stroke-width="1.0" />
<rect x="552.35" y="497" width="8.25" height="30.4" fill="#111"/>
<line x1="556.45" y1="491.6" x2="556.45" y2="497" stroke="#5a5a5a" stroke-width="1.25" />
<line x1="554.95" y1="491.6" x2="557.95" y2="491.6" stroke="#222" stroke-width="1.0" />
<rect x="561" y="501" width="7.7" height="26.4" fill="url(#hc2)" stroke="#111" stroke-width="0.8"/>
<line x1="564.7" y1="496" x2="564.7" y2="500.6" stroke="#5a5a5a" stroke-width="1.25" />
<line x1="563.2" y1="496" x2="566.2" y2="496" stroke="#222" stroke-width="1.0" />
<rect x="580.07" y="498.6" width="8.25" height="28.8" fill="#111"/>
<line x1="584.17" y1="494.4" x2="584.17" y2="498.6" stroke="#5a5a5a" stroke-width="1.25" />
<line x1="582.67" y1="494.4" x2="585.67" y2="494.4" stroke="#222" stroke-width="1.0" />
<rect x="588.72" y="501.4" width="7.7" height="26" fill="url(#hc2)" stroke="#111" stroke-width="0.8"/>
<line x1="592.42" y1="497.4" x2="592.42" y2="501" stroke="#5a5a5a" stroke-width="1.25" />
<line x1="590.92" y1="497.4" x2="593.92" y2="497.4" stroke="#222" stroke-width="1.0" />
<text x="491.2" y="463.88" font-size="8" text-anchor="middle" fill="#111">SKUT-1</text>
<text x="357.06" y="489.5" font-size="7.95" text-anchor="middle" fill="#111" transform="rotate(-90 357.06 489.5)">Fold Induction</text>
<text x="396.86" y="534.5" font-size="8.0" text-anchor="end" fill="#111" transform="rotate(-45 396.86 534.5)">NT</text>
<text x="423.39" y="535" font-size="8.0" text-anchor="end" fill="#111" transform="rotate(-45 423.39 535)">wt E2F1</text>
<text x="451.91" y="535" font-size="8.0" text-anchor="end" fill="#111" transform="rotate(-45 451.91 535)">E2F1 S375A</text>
<text x="479.94" y="535" font-size="8.0" text-anchor="end" fill="#111" transform="rotate(-45 479.94 535)">E2F1 S375D</text>
<text x="507.36" y="535" font-size="8.0" text-anchor="end" fill="#111" transform="rotate(-45 507.36 535)">wtE2F1+CDK8</text>
<text x="536.09" y="535" font-size="8.0" text-anchor="end" fill="#111" transform="rotate(-45 536.09 535)">E2F1 S375A+CDK8</text>
<text x="566.31" y="535" font-size="8.0" text-anchor="end" fill="#111" transform="rotate(-45 566.31 535)">wt E2F1+CDK8 KD</text>
<text x="591.54" y="535" font-size="8.0" text-anchor="end" fill="#111" transform="rotate(-45 591.54 535)">E2F1 S375A+CDK8 KD</text>
<rect x="604.6" y="475.6" width="35.2" height="26" fill="#fff" stroke="#333" stroke-width="1"/>
<rect x="607" y="480" width="5.4" height="5.7" fill="#111"/>
<rect x="607.4" y="493.2" width="4.8" height="5" fill="url(#hc2)" stroke="#111" stroke-width="0.8"/>
<text x="614.2" y="485.81" font-size="7.8" text-anchor="start" fill="#111">MYC</text>
<text x="614.2" y="499.01" font-size="7.8" text-anchor="start" fill="#111">CD44</text>
<path d="M26.5,620.5 H223.2 V725" fill="none" stroke="#222" stroke-width="1"/>
<path d="M26.5,620.5 V725 H223.2" fill="none" stroke="#111" stroke-width="1.3"/>
<line x1="24" y1="725" x2="26.5" y2="725" stroke="#111" stroke-width="1.2" />
<text x="20.8" y="728.16" font-size="9.6" text-anchor="end" fill="#111">0</text>
<line x1="24" y1="707.58" x2="26.5" y2="707.58" stroke="#111" stroke-width="1.2" />
<text x="20.8" y="710.74" font-size="9.6" text-anchor="end" fill="#111">1</text>
<line x1="24" y1="690.17" x2="26.5" y2="690.17" stroke="#111" stroke-width="1.2" />
<text x="20.8" y="693.32" font-size="9.6" text-anchor="end" fill="#111">2</text>
<line x1="24" y1="672.75" x2="26.5" y2="672.75" stroke="#111" stroke-width="1.2" />
<text x="20.8" y="675.91" font-size="9.6" text-anchor="end" fill="#111">3</text>
<line x1="24" y1="655.33" x2="26.5" y2="655.33" stroke="#111" stroke-width="1.2" />
<text x="20.8" y="658.49" font-size="9.6" text-anchor="end" fill="#111">4</text>
<line x1="24" y1="637.92" x2="26.5" y2="637.92" stroke="#111" stroke-width="1.2" />
<text x="20.8" y="641.07" font-size="9.6" text-anchor="end" fill="#111">5</text>
<line x1="24" y1="620.5" x2="26.5" y2="620.5" stroke="#111" stroke-width="1.2" />
<text x="20.8" y="623.66" font-size="9.6" text-anchor="end" fill="#111">6</text>
<line x1="26.5" y1="725" x2="26.5" y2="727.5" stroke="#111" stroke-width="1.2" />
<line x1="51.09" y1="725" x2="51.09" y2="727.5" stroke="#111" stroke-width="1.2" />
<line x1="75.67" y1="725" x2="75.67" y2="727.5" stroke="#111" stroke-width="1.2" />
<line x1="100.26" y1="725" x2="100.26" y2="727.5" stroke="#111" stroke-width="1.2" />
<line x1="124.85" y1="725" x2="124.85" y2="727.5" stroke="#111" stroke-width="1.2" />
<line x1="149.44" y1="725" x2="149.44" y2="727.5" stroke="#111" stroke-width="1.2" />
<line x1="174.02" y1="725" x2="174.02" y2="727.5" stroke="#111" stroke-width="1.2" />
<line x1="198.61" y1="725" x2="198.61" y2="727.5" stroke="#111" stroke-width="1.2" />
<line x1="223.2" y1="725" x2="223.2" y2="727.5" stroke="#111" stroke-width="1.2" />
<rect x="29.5" y="707.4" width="4.5" height="17.6" fill="#111"/>
<rect x="34.42" y="707.82" width="3.65" height="17.18" fill="url(#hd1)" stroke="#111" stroke-width="0.85"/>
<rect x="38.92" y="707.82" width="3.65" height="17.18" fill="url(#hd2)" stroke="#111" stroke-width="0.85"/>
<rect x="43.58" y="707.98" width="3.35" height="17.03" fill="url(#hd3)" stroke="#111" stroke-width="1.15"/>
<rect x="54.09" y="683" width="4.5" height="42" fill="#111"/>
<rect x="59.01" y="669.82" width="3.65" height="55.18" fill="url(#hd1)" stroke="#111" stroke-width="0.85"/>
<rect x="63.51" y="666.02" width="3.65" height="58.97" fill="url(#hd2)" stroke="#111" stroke-width="0.85"/>
<rect x="68.16" y="656.18" width="3.35" height="68.82" fill="url(#hd3)" stroke="#111" stroke-width="1.15"/>
<line x1="56.34" y1="680.4" x2="56.34" y2="683" stroke="#5a5a5a" stroke-width="1.25" />
<line x1="54.74" y1="680.4" x2="57.94" y2="680.4" stroke="#222" stroke-width="1.0" />
<line x1="60.84" y1="661" x2="60.84" y2="669.4" stroke="#5a5a5a" stroke-width="1.25" />
<line x1="59.24" y1="661" x2="62.44" y2="661" stroke="#222" stroke-width="1.0" />
<line x1="65.34" y1="656.4" x2="65.34" y2="665.6" stroke="#5a5a5a" stroke-width="1.25" />
<line x1="63.74" y1="656.4" x2="66.94" y2="656.4" stroke="#222" stroke-width="1.0" />
<line x1="69.84" y1="649.4" x2="69.84" y2="655.6" stroke="#5a5a5a" stroke-width="1.25" />
<line x1="68.24" y1="649.4" x2="71.44" y2="649.4" stroke="#222" stroke-width="1.0" />
<rect x="78.67" y="685.6" width="4.5" height="39.4" fill="#111"/>
<rect x="83.6" y="672.82" width="3.65" height="52.18" fill="url(#hd1)" stroke="#111" stroke-width="0.85"/>
<rect x="88.1" y="667.82" width="3.65" height="57.18" fill="url(#hd2)" stroke="#111" stroke-width="0.85"/>
<rect x="92.75" y="651.18" width="3.35" height="73.82" fill="url(#hd3)" stroke="#111" stroke-width="1.15"/>
<line x1="80.92" y1="683" x2="80.92" y2="685.6" stroke="#5a5a5a" stroke-width="1.25" />
<line x1="79.33" y1="683" x2="82.52" y2="683" stroke="#222" stroke-width="1.0" />
<line x1="85.42" y1="666" x2="85.42" y2="672.4" stroke="#5a5a5a" stroke-width="1.25" />
<line x1="83.83" y1="666" x2="87.02" y2="666" stroke="#222" stroke-width="1.0" />
<line x1="89.92" y1="656.6" x2="89.92" y2="667.4" stroke="#5a5a5a" stroke-width="1.25" />
<line x1="88.33" y1="656.6" x2="91.52" y2="656.6" stroke="#222" stroke-width="1.0" />
<line x1="94.42" y1="649.4" x2="94.42" y2="650.6" stroke="#5a5a5a" stroke-width="1.25" />
<line x1="92.83" y1="649.4" x2="96.02" y2="649.4" stroke="#222" stroke-width="1.0" />
<rect x="103.26" y="709.4" width="4.5" height="15.6" fill="#111"/>
<rect x="108.19" y="710.82" width="3.65" height="14.18" fill="url(#hd1)" stroke="#111" stroke-width="0.85"/>
<rect x="112.69" y="711.02" width="3.65" height="13.97" fill="url(#hd2)" stroke="#111" stroke-width="0.85"/>
<rect x="117.34" y="712.98" width="3.35" height="12.03" fill="url(#hd3)" stroke="#111" stroke-width="1.15"/>
<line x1="119.01" y1="708.4" x2="119.01" y2="712.4" stroke="#5a5a5a" stroke-width="1.25" />
<line x1="117.41" y1="708.4" x2="120.61" y2="708.4" stroke="#222" stroke-width="1.0" />
<rect x="127.85" y="708" width="4.5" height="17" fill="#111"/>
<rect x="132.78" y="710.42" width="3.65" height="14.57" fill="url(#hd1)" stroke="#111" stroke-width="0.85"/>
<rect x="137.28" y="710.42" width="3.65" height="14.57" fill="url(#hd2)" stroke="#111" stroke-width="0.85"/>
<rect x="141.92" y="708.98" width="3.35" height="16.03" fill="url(#hd3)" stroke="#111" stroke-width="1.15"/>
<line x1="130.1" y1="706.5" x2="130.1" y2="708" stroke="#5a5a5a" stroke-width="1.25" />
<line x1="128.5" y1="706.5" x2="131.7" y2="706.5" stroke="#222" stroke-width="1.0" />
<line x1="139.1" y1="708.5" x2="139.1" y2="710" stroke="#5a5a5a" stroke-width="1.25" />
<line x1="137.5" y1="708.5" x2="140.7" y2="708.5" stroke="#222" stroke-width="1.0" />
<line x1="143.6" y1="706" x2="143.6" y2="708.4" stroke="#5a5a5a" stroke-width="1.25" />
<line x1="142" y1="706" x2="145.2" y2="706" stroke="#222" stroke-width="1.0" />
<rect x="152.44" y="686" width="4.5" height="39" fill="#111"/>
<rect x="157.36" y="672.82" width="3.65" height="52.18" fill="url(#hd1)" stroke="#111" stroke-width="0.85"/>
<rect x="161.86" y="670.82" width="3.65" height="54.18" fill="url(#hd2)" stroke="#111" stroke-width="0.85"/>
<rect x="166.51" y="654.98" width="3.35" height="70.03" fill="url(#hd3)" stroke="#111" stroke-width="1.15"/>
<line x1="154.69" y1="684" x2="154.69" y2="686" stroke="#5a5a5a" stroke-width="1.25" />
<line x1="153.09" y1="684" x2="156.29" y2="684" stroke="#222" stroke-width="1.0" />
<line x1="159.19" y1="670" x2="159.19" y2="672.4" stroke="#5a5a5a" stroke-width="1.25" />
<line x1="157.59" y1="670" x2="160.79" y2="670" stroke="#222" stroke-width="1.0" />
<line x1="163.69" y1="662.4" x2="163.69" y2="670.4" stroke="#5a5a5a" stroke-width="1.25" />
<line x1="162.09" y1="662.4" x2="165.29" y2="662.4" stroke="#222" stroke-width="1.0" />
<line x1="168.19" y1="651.4" x2="168.19" y2="654.4" stroke="#5a5a5a" stroke-width="1.25" />
<line x1="166.59" y1="651.4" x2="169.79" y2="651.4" stroke="#222" stroke-width="1.0" />
<rect x="177.02" y="680" width="4.5" height="45" fill="#111"/>
<rect x="181.95" y="674.82" width="3.65" height="50.18" fill="url(#hd1)" stroke="#111" stroke-width="0.85"/>
<rect x="186.45" y="671.42" width="3.65" height="53.58" fill="url(#hd2)" stroke="#111" stroke-width="0.85"/>
<rect x="191.1" y="654.58" width="3.35" height="70.42" fill="url(#hd3)" stroke="#111" stroke-width="1.15"/>
<line x1="179.27" y1="678" x2="179.27" y2="680" stroke="#5a5a5a" stroke-width="1.25" />
<line x1="177.67" y1="678" x2="180.87" y2="678" stroke="#222" stroke-width="1.0" />
<line x1="183.77" y1="669.4" x2="183.77" y2="674.4" stroke="#5a5a5a" stroke-width="1.25" />
<line x1="182.17" y1="669.4" x2="185.37" y2="669.4" stroke="#222" stroke-width="1.0" />
<line x1="188.27" y1="669.5" x2="188.27" y2="671" stroke="#5a5a5a" stroke-width="1.25" />
<line x1="186.67" y1="669.5" x2="189.87" y2="669.5" stroke="#222" stroke-width="1.0" />
<line x1="192.77" y1="651" x2="192.77" y2="654" stroke="#5a5a5a" stroke-width="1.25" />
<line x1="191.17" y1="651" x2="194.37" y2="651" stroke="#222" stroke-width="1.0" />
<rect x="201.61" y="684.6" width="4.5" height="40.4" fill="#111"/>
<rect x="206.54" y="676.42" width="3.65" height="48.58" fill="url(#hd1)" stroke="#111" stroke-width="0.85"/>
<rect x="211.04" y="664.42" width="3.65" height="60.58" fill="url(#hd2)" stroke="#111" stroke-width="0.85"/>
<rect x="215.69" y="651.18" width="3.35" height="73.82" fill="url(#hd3)" stroke="#111" stroke-width="1.15"/>
<line x1="203.86" y1="680.4" x2="203.86" y2="684.6" stroke="#5a5a5a" stroke-width="1.25" />
<line x1="202.26" y1="680.4" x2="205.46" y2="680.4" stroke="#222" stroke-width="1.0" />
<line x1="208.36" y1="674.5" x2="208.36" y2="676" stroke="#5a5a5a" stroke-width="1.25" />
<line x1="206.76" y1="674.5" x2="209.96" y2="674.5" stroke="#222" stroke-width="1.0" />
<line x1="212.86" y1="661" x2="212.86" y2="664" stroke="#5a5a5a" stroke-width="1.25" />
<line x1="211.26" y1="661" x2="214.46" y2="661" stroke="#222" stroke-width="1.0" />
<line x1="217.36" y1="637.4" x2="217.36" y2="650.6" stroke="#5a5a5a" stroke-width="1.25" />
<line x1="215.76" y1="637.4" x2="218.96" y2="637.4" stroke="#222" stroke-width="1.0" />
<text x="123" y="633.42" font-size="9.5" text-anchor="middle" fill="#111">HCT116</text>
<text x="7.93" y="671" font-size="9.8" text-anchor="middle" fill="#111" transform="rotate(-90 7.93 671)">Fold Induction</text>
<text x="0.3" y="627" font-size="16.5" text-anchor="start" fill="#111">d</text>
<text x="42.09" y="735.3" font-size="9.6" text-anchor="end" fill="#111" transform="rotate(-44.5 42.09 735.3)">NT</text>
<text x="67.98" y="735.8" font-size="9.6" text-anchor="end" fill="#111" transform="rotate(-44.5 67.98 735.8)">wt E2F1</text>
<text x="92.57" y="735.8" font-size="9.6" text-anchor="end" fill="#111" transform="rotate(-44.5 92.57 735.8)">E2F1 S375A</text>
<text x="117.16" y="735.8" font-size="9.6" text-anchor="end" fill="#111" transform="rotate(-44.5 117.16 735.8)">E2F1 S375D</text>
<text x="141.74" y="735.8" font-size="9.6" text-anchor="end" fill="#111" transform="rotate(-44.5 141.74 735.8)">wtE2F1+CDK8</text>
<text x="166.33" y="735.8" font-size="9.6" text-anchor="end" fill="#111" transform="rotate(-44.5 166.33 735.8)">E2F1 S375A+CDK8</text>
<text x="190.92" y="735.8" font-size="9.6" text-anchor="end" fill="#111" transform="rotate(-44.5 190.92 735.8)">wt E2F1+CDK8 KD</text>
<text x="215.51" y="735.8" font-size="9.6" text-anchor="end" fill="#111" transform="rotate(-44.5 215.51 735.8)">E2F1 S375A+CDK8 KD</text>
<rect x="225.2" y="647.8" width="61.2" height="42.8" fill="#fff" stroke="#333" stroke-width="1"/>
<rect x="227.8" y="650.4" width="5.2" height="4.8" fill="#111"/>
<text x="235.4" y="656.22" font-size="9.5" text-anchor="start" fill="#111">p107</text>
<rect x="228.2" y="661.5" width="4.6" height="4.4" fill="url(#hd1)" stroke="#111" stroke-width="0.8"/>
<text x="235.4" y="667.02" font-size="9.5" text-anchor="start" fill="#111">PCNA</text>
<rect x="228.2" y="672.7" width="4.6" height="4.4" fill="url(#hd2)" stroke="#111" stroke-width="0.8"/>
<text x="235.4" y="678.22" font-size="9.5" text-anchor="start" fill="#111">TP73</text>
<rect x="228.2" y="683.7" width="4.6" height="4.4" fill="url(#hd3)" stroke="#111" stroke-width="0.8"/>
<text x="235.4" y="689.22" font-size="9.5" text-anchor="start" fill="#111">CTNNBIP1</text>
<path d="M338.7,628.5 H617.6 V725" fill="none" stroke="#222" stroke-width="1"/>
<path d="M338.7,628.5 V725 H617.6" fill="none" stroke="#111" stroke-width="1.3"/>
<line x1="336.2" y1="725" x2="338.7" y2="725" stroke="#111" stroke-width="1.2" />
<text x="332.3" y="728.49" font-size="9.7" text-anchor="end" fill="#111">0</text>
<line x1="336.2" y1="712.94" x2="338.7" y2="712.94" stroke="#111" stroke-width="1.2" />
<text x="332.3" y="716.43" font-size="9.7" text-anchor="end" fill="#111">0.5</text>
<line x1="336.2" y1="700.88" x2="338.7" y2="700.88" stroke="#111" stroke-width="1.2" />
<text x="332.3" y="704.37" font-size="9.7" text-anchor="end" fill="#111">1</text>
<line x1="336.2" y1="688.81" x2="338.7" y2="688.81" stroke="#111" stroke-width="1.2" />
<text x="332.3" y="692.3" font-size="9.7" text-anchor="end" fill="#111">1.5</text>
<line x1="336.2" y1="676.75" x2="338.7" y2="676.75" stroke="#111" stroke-width="1.2" />
<text x="332.3" y="680.24" font-size="9.7" text-anchor="end" fill="#111">2</text>
<line x1="336.2" y1="664.69" x2="338.7" y2="664.69" stroke="#111" stroke-width="1.2" />
<text x="332.3" y="668.18" font-size="9.7" text-anchor="end" fill="#111">2.5</text>
<line x1="336.2" y1="652.62" x2="338.7" y2="652.62" stroke="#111" stroke-width="1.2" />
<text x="332.3" y="656.12" font-size="9.7" text-anchor="end" fill="#111">3</text>
<line x1="336.2" y1="640.56" x2="338.7" y2="640.56" stroke="#111" stroke-width="1.2" />
<text x="332.3" y="644.05" font-size="9.7" text-anchor="end" fill="#111">3.5</text>
<line x1="336.2" y1="628.5" x2="338.7" y2="628.5" stroke="#111" stroke-width="1.2" />
<text x="332.3" y="631.99" font-size="9.7" text-anchor="end" fill="#111">4</text>
<line x1="338.7" y1="725" x2="338.7" y2="727.5" stroke="#111" stroke-width="1.2" />
<line x1="373.56" y1="725" x2="373.56" y2="727.5" stroke="#111" stroke-width="1.2" />
<line x1="408.43" y1="725" x2="408.43" y2="727.5" stroke="#111" stroke-width="1.2" />
<line x1="443.29" y1="725" x2="443.29" y2="727.5" stroke="#111" stroke-width="1.2" />
<line x1="478.15" y1="725" x2="478.15" y2="727.5" stroke="#111" stroke-width="1.2" />
<line x1="513.01" y1="725" x2="513.01" y2="727.5" stroke="#111" stroke-width="1.2" />
<line x1="547.88" y1="725" x2="547.88" y2="727.5" stroke="#111" stroke-width="1.2" />
<line x1="582.74" y1="725" x2="582.74" y2="727.5" stroke="#111" stroke-width="1.2" />
<line x1="617.6" y1="725" x2="617.6" y2="727.5" stroke="#111" stroke-width="1.2" />
<rect x="343.2" y="701" width="6.45" height="24" fill="#111"/>
<rect x="350.05" y="701.4" width="5.65" height="23.6" fill="url(#he1)" stroke="#111" stroke-width="0.8"/>
<clipPath id="cz1"><rect x="356.1" y="701" width="6.45" height="24"/></clipPath>
<rect x="356.5" y="701.4" width="5.65" height="23.6" fill="#fff"/>
<path d="M356.1,725 L362.55,718.6 M356.1,718.6 L362.55,725 M356.1,718.6 L362.55,712.2 M356.1,712.2 L362.55,718.6 M356.1,712.2 L362.55,705.8 M356.1,705.8 L362.55,712.2 M356.1,705.8 L362.55,699.4 M356.1,699.4 L362.55,705.8 M356.1,699.4 L362.55,693 M356.1,693 L362.55,699.4 " stroke="#111" stroke-width="0.9" fill="none" clip-path="url(#cz1)"/>
<rect x="356.5" y="701.4" width="5.65" height="23.6" fill="none" stroke="#111" stroke-width="0.8"/>
<rect x="362.95" y="701.4" width="5.65" height="23.6" fill="url(#he3)" stroke="#111" stroke-width="0.8"/>
<rect x="378.06" y="714.6" width="6.45" height="10.4" fill="#111"/>
<rect x="384.91" y="653.4" width="5.65" height="71.6" fill="url(#he1)" stroke="#111" stroke-width="0.8"/>
<clipPath id="cz2"><rect x="390.96" y="650.4" width="6.45" height="74.6"/></clipPath>
<rect x="391.36" y="650.8" width="5.65" height="74.2" fill="#fff"/>
<path d="M390.96,725 L397.41,718.6 M390.96,718.6 L397.41,712.2 M390.96,712.2 L397.41,705.8 M390.96,705.8 L397.41,699.4 M390.96,699.4 L397.41,693 M390.96,693 L397.41,686.6 M390.96,686.6 L397.41,680.2 M390.96,680.2 L397.41,673.8 M390.96,673.8 L397.41,667.4 M390.96,667.4 L397.41,661 M390.96,661 L397.41,654.6 M390.96,654.6 L397.41,648.2 M390.96,648.2 L397.41,641.8 " stroke="#111" stroke-width="0.9" fill="none" clip-path="url(#cz2)"/>
<rect x="391.36" y="650.8" width="5.65" height="74.2" fill="none" stroke="#111" stroke-width="0.8"/>
<rect x="397.81" y="641" width="5.65" height="84" fill="url(#he3)" stroke="#111" stroke-width="0.8"/>
<line x1="381.26" y1="713" x2="381.26" y2="714.6" stroke="#5a5a5a" stroke-width="1.25" />
<line x1="379.46" y1="713" x2="383.06" y2="713" stroke="#222" stroke-width="1.0" />
<line x1="387.71" y1="643.6" x2="387.71" y2="662.4" stroke="#5a5a5a" stroke-width="1.25" />
<line x1="385.91" y1="643.6" x2="389.51" y2="643.6" stroke="#222" stroke-width="1.0" />
<line x1="385.91" y1="662.4" x2="389.51" y2="662.4" stroke="#222" stroke-width="1.0" />
<line x1="394.16" y1="640.4" x2="394.16" y2="660.4" stroke="#5a5a5a" stroke-width="1.25" />
<line x1="392.36" y1="640.4" x2="395.96" y2="640.4" stroke="#222" stroke-width="1.0" />
<line x1="392.36" y1="660.4" x2="395.96" y2="660.4" stroke="#222" stroke-width="1.0" />
<line x1="400.61" y1="637" x2="400.61" y2="644" stroke="#5a5a5a" stroke-width="1.25" />
<line x1="398.81" y1="637" x2="402.41" y2="637" stroke="#222" stroke-width="1.0" />
<line x1="398.81" y1="644" x2="402.41" y2="644" stroke="#222" stroke-width="1.0" />
<rect x="412.93" y="715.6" width="6.45" height="9.4" fill="#111"/>
<rect x="419.77" y="659" width="5.65" height="66" fill="url(#he1)" stroke="#111" stroke-width="0.8"/>
<clipPath id="cz3"><rect x="425.82" y="646" width="6.45" height="79"/></clipPath>
<rect x="426.22" y="646.4" width="5.65" height="78.6" fill="#fff"/>
<path d="M425.82,725 L432.27,718.6 M425.82,718.6 L432.27,712.2 M425.82,712.2 L432.27,705.8 M425.82,705.8 L432.27,699.4 M425.82,699.4 L432.27,693 M425.82,693 L432.27,686.6 M425.82,686.6 L432.27,680.2 M425.82,680.2 L432.27,673.8 M425.82,673.8 L432.27,667.4 M425.82,667.4 L432.27,661 M425.82,661 L432.27,654.6 M425.82,654.6 L432.27,648.2 M425.82,648.2 L432.27,641.8 M425.82,641.8 L432.27,635.4 " stroke="#111" stroke-width="0.9" fill="none" clip-path="url(#cz3)"/>
<rect x="426.22" y="646.4" width="5.65" height="78.6" fill="none" stroke="#111" stroke-width="0.8"/>
<rect x="432.68" y="640.8" width="5.65" height="84.2" fill="url(#he3)" stroke="#111" stroke-width="0.8"/>
<line x1="416.12" y1="711.6" x2="416.12" y2="715.6" stroke="#5a5a5a" stroke-width="1.25" />
<line x1="414.32" y1="711.6" x2="417.93" y2="711.6" stroke="#222" stroke-width="1.0" />
<line x1="422.57" y1="655.6" x2="422.57" y2="661" stroke="#5a5a5a" stroke-width="1.25" />
<line x1="420.77" y1="655.6" x2="424.38" y2="655.6" stroke="#222" stroke-width="1.0" />
<line x1="420.77" y1="661" x2="424.38" y2="661" stroke="#222" stroke-width="1.0" />
<line x1="429.02" y1="637" x2="429.02" y2="655" stroke="#5a5a5a" stroke-width="1.25" />
<line x1="427.22" y1="637" x2="430.82" y2="637" stroke="#222" stroke-width="1.0" />
<line x1="427.22" y1="655" x2="430.82" y2="655" stroke="#222" stroke-width="1.0" />
<line x1="435.48" y1="635" x2="435.48" y2="645" stroke="#5a5a5a" stroke-width="1.25" />
<line x1="433.68" y1="635" x2="437.28" y2="635" stroke="#222" stroke-width="1.0" />
<line x1="433.68" y1="645" x2="437.28" y2="645" stroke="#222" stroke-width="1.0" />
<rect x="447.79" y="700" width="6.45" height="25" fill="#111"/>
<rect x="454.64" y="702" width="5.65" height="23" fill="url(#he1)" stroke="#111" stroke-width="0.8"/>
<clipPath id="cz4"><rect x="460.69" y="700.6" width="6.45" height="24.4"/></clipPath>
<rect x="461.09" y="701" width="5.65" height="24" fill="#fff"/>
<path d="M460.69,725 L467.14,718.6 M460.69,718.6 L467.14,725 M460.69,718.6 L467.14,712.2 M460.69,712.2 L467.14,718.6 M460.69,712.2 L467.14,705.8 M460.69,705.8 L467.14,712.2 M460.69,705.8 L467.14,699.4 M460.69,699.4 L467.14,705.8 M460.69,699.4 L467.14,693 M460.69,693 L467.14,699.4 " stroke="#111" stroke-width="0.9" fill="none" clip-path="url(#cz4)"/>
<rect x="461.09" y="701" width="5.65" height="24" fill="none" stroke="#111" stroke-width="0.8"/>
<rect x="467.54" y="716.8" width="5.65" height="8.2" fill="url(#he3)" stroke="#111" stroke-width="0.8"/>
<line x1="450.99" y1="697.4" x2="450.99" y2="700" stroke="#5a5a5a" stroke-width="1.25" />
<line x1="449.19" y1="697.4" x2="452.79" y2="697.4" stroke="#222" stroke-width="1.0" />
<line x1="457.44" y1="698" x2="457.44" y2="701.6" stroke="#5a5a5a" stroke-width="1.25" />
<line x1="455.64" y1="698" x2="459.24" y2="698" stroke="#222" stroke-width="1.0" />
<line x1="463.89" y1="697" x2="463.89" y2="700.6" stroke="#5a5a5a" stroke-width="1.25" />
<line x1="462.09" y1="697" x2="465.69" y2="697" stroke="#222" stroke-width="1.0" />
<rect x="482.65" y="696.6" width="6.45" height="28.4" fill="#111"/>
<rect x="489.5" y="701" width="5.65" height="24" fill="url(#he1)" stroke="#111" stroke-width="0.8"/>
<clipPath id="cz5"><rect x="495.55" y="700.4" width="6.45" height="24.6"/></clipPath>
<rect x="495.95" y="700.8" width="5.65" height="24.2" fill="#fff"/>
<path d="M495.55,725 L502,718.6 M495.55,718.6 L502,725 M495.55,718.6 L502,712.2 M495.55,712.2 L502,718.6 M495.55,712.2 L502,705.8 M495.55,705.8 L502,712.2 M495.55,705.8 L502,699.4 M495.55,699.4 L502,705.8 M495.55,699.4 L502,693 M495.55,693 L502,699.4 " stroke="#111" stroke-width="0.9" fill="none" clip-path="url(#cz5)"/>
<rect x="495.95" y="700.8" width="5.65" height="24.2" fill="none" stroke="#111" stroke-width="0.8"/>
<rect x="502.4" y="704.4" width="5.65" height="20.6" fill="url(#he3)" stroke="#111" stroke-width="0.8"/>
<line x1="485.85" y1="694.6" x2="485.85" y2="696.6" stroke="#5a5a5a" stroke-width="1.25" />
<line x1="484.05" y1="694.6" x2="487.65" y2="694.6" stroke="#222" stroke-width="1.0" />
<line x1="492.3" y1="697.6" x2="492.3" y2="700.6" stroke="#5a5a5a" stroke-width="1.25" />
<line x1="490.5" y1="697.6" x2="494.1" y2="697.6" stroke="#222" stroke-width="1.0" />
<line x1="498.75" y1="696" x2="498.75" y2="700.4" stroke="#5a5a5a" stroke-width="1.25" />
<line x1="496.95" y1="696" x2="500.55" y2="696" stroke="#222" stroke-width="1.0" />
<line x1="505.2" y1="702" x2="505.2" y2="704" stroke="#5a5a5a" stroke-width="1.25" />
<line x1="503.4" y1="702" x2="507" y2="702" stroke="#222" stroke-width="1.0" />
<rect x="517.51" y="715.4" width="6.45" height="9.6" fill="#111"/>
<rect x="524.36" y="657.8" width="5.65" height="67.2" fill="url(#he1)" stroke="#111" stroke-width="0.8"/>
<clipPath id="cz6"><rect x="530.41" y="653.6" width="6.45" height="71.4"/></clipPath>
<rect x="530.81" y="654" width="5.65" height="71" fill="#fff"/>
<path d="M530.41,725 L536.86,718.6 M530.41,718.6 L536.86,712.2 M530.41,712.2 L536.86,705.8 M530.41,705.8 L536.86,699.4 M530.41,699.4 L536.86,693 M530.41,693 L536.86,686.6 M530.41,686.6 L536.86,680.2 M530.41,680.2 L536.86,673.8 M530.41,673.8 L536.86,667.4 M530.41,667.4 L536.86,661 M530.41,661 L536.86,654.6 M530.41,654.6 L536.86,648.2 M530.41,648.2 L536.86,641.8 " stroke="#111" stroke-width="0.9" fill="none" clip-path="url(#cz6)"/>
<rect x="530.81" y="654" width="5.65" height="71" fill="none" stroke="#111" stroke-width="0.8"/>
<rect x="537.26" y="641.4" width="5.65" height="83.6" fill="url(#he3)" stroke="#111" stroke-width="0.8"/>
<line x1="520.71" y1="713.4" x2="520.71" y2="715.4" stroke="#5a5a5a" stroke-width="1.25" />
<line x1="518.91" y1="713.4" x2="522.51" y2="713.4" stroke="#222" stroke-width="1.0" />
<line x1="527.16" y1="651.6" x2="527.16" y2="657.4" stroke="#5a5a5a" stroke-width="1.25" />
<line x1="525.36" y1="651.6" x2="528.96" y2="651.6" stroke="#222" stroke-width="1.0" />
<line x1="533.61" y1="650.6" x2="533.61" y2="653.6" stroke="#5a5a5a" stroke-width="1.25" />
<line x1="531.81" y1="650.6" x2="535.41" y2="650.6" stroke="#222" stroke-width="1.0" />
<line x1="540.06" y1="634.4" x2="540.06" y2="641" stroke="#5a5a5a" stroke-width="1.25" />
<line x1="538.26" y1="634.4" x2="541.86" y2="634.4" stroke="#222" stroke-width="1.0" />
<rect x="552.38" y="714" width="6.45" height="11" fill="#111"/>
<rect x="559.23" y="650.4" width="5.65" height="74.6" fill="url(#he1)" stroke="#111" stroke-width="0.8"/>
<clipPath id="cz7"><rect x="565.27" y="657.4" width="6.45" height="67.6"/></clipPath>
<rect x="565.67" y="657.8" width="5.65" height="67.2" fill="#fff"/>
<path d="M565.27,725 L571.73,718.6 M565.27,718.6 L571.73,712.2 M565.27,712.2 L571.73,705.8 M565.27,705.8 L571.73,699.4 M565.27,699.4 L571.73,693 M565.27,693 L571.73,686.6 M565.27,686.6 L571.73,680.2 M565.27,680.2 L571.73,673.8 M565.27,673.8 L571.73,667.4 M565.27,667.4 L571.73,661 M565.27,661 L571.73,654.6 M565.27,654.6 L571.73,648.2 " stroke="#111" stroke-width="0.9" fill="none" clip-path="url(#cz7)"/>
<rect x="565.67" y="657.8" width="5.65" height="67.2" fill="none" stroke="#111" stroke-width="0.8"/>
<rect x="572.12" y="644.8" width="5.65" height="80.2" fill="url(#he3)" stroke="#111" stroke-width="0.8"/>
<line x1="555.58" y1="713" x2="555.58" y2="714" stroke="#5a5a5a" stroke-width="1.25" />
<line x1="553.78" y1="713" x2="557.38" y2="713" stroke="#222" stroke-width="1.0" />
<line x1="562.03" y1="645.6" x2="562.03" y2="650" stroke="#5a5a5a" stroke-width="1.25" />
<line x1="560.23" y1="645.6" x2="563.83" y2="645.6" stroke="#222" stroke-width="1.0" />
<line x1="568.48" y1="650" x2="568.48" y2="665" stroke="#5a5a5a" stroke-width="1.25" />
<line x1="566.68" y1="650" x2="570.27" y2="650" stroke="#222" stroke-width="1.0" />
<line x1="566.68" y1="665" x2="570.27" y2="665" stroke="#222" stroke-width="1.0" />
<line x1="574.93" y1="637" x2="574.93" y2="644.4" stroke="#5a5a5a" stroke-width="1.25" />
<line x1="573.13" y1="637" x2="576.73" y2="637" stroke="#222" stroke-width="1.0" />
<rect x="587.24" y="715.4" width="6.45" height="9.6" fill="#111"/>
<rect x="594.09" y="664.8" width="5.65" height="60.2" fill="url(#he1)" stroke="#111" stroke-width="0.8"/>
<clipPath id="cz8"><rect x="600.14" y="652.6" width="6.45" height="72.4"/></clipPath>
<rect x="600.54" y="653" width="5.65" height="72" fill="#fff"/>
<path d="M600.14,725 L606.59,718.6 M600.14,718.6 L606.59,725 M600.14,718.6 L606.59,712.2 M600.14,712.2 L606.59,718.6 M600.14,712.2 L606.59,705.8 M600.14,705.8 L606.59,712.2 M600.14,705.8 L606.59,699.4 M600.14,699.4 L606.59,705.8 M600.14,699.4 L606.59,693 M600.14,693 L606.59,699.4 M600.14,693 L606.59,686.6 M600.14,686.6 L606.59,693 M600.14,686.6 L606.59,680.2 M600.14,680.2 L606.59,686.6 M600.14,680.2 L606.59,673.8 M600.14,673.8 L606.59,680.2 M600.14,673.8 L606.59,667.4 M600.14,667.4 L606.59,673.8 M600.14,667.4 L606.59,661 M600.14,661 L606.59,667.4 M600.14,661 L606.59,654.6 M600.14,654.6 L606.59,661 M600.14,654.6 L606.59,648.2 M600.14,648.2 L606.59,654.6 M600.14,648.2 L606.59,641.8 M600.14,641.8 L606.59,648.2 " stroke="#111" stroke-width="0.9" fill="none" clip-path="url(#cz8)"/>
<rect x="600.54" y="653" width="5.65" height="72" fill="none" stroke="#111" stroke-width="0.8"/>
<rect x="606.99" y="641.8" width="5.65" height="83.2" fill="url(#he3)" stroke="#111" stroke-width="0.8"/>
<line x1="596.89" y1="661" x2="596.89" y2="664.4" stroke="#5a5a5a" stroke-width="1.25" />
<line x1="595.09" y1="661" x2="598.69" y2="661" stroke="#222" stroke-width="1.0" />
<line x1="603.34" y1="648" x2="603.34" y2="652.6" stroke="#5a5a5a" stroke-width="1.25" />
<line x1="601.54" y1="648" x2="605.14" y2="648" stroke="#222" stroke-width="1.0" />
<line x1="609.79" y1="634" x2="609.79" y2="641.4" stroke="#5a5a5a" stroke-width="1.25" />
<line x1="607.99" y1="634" x2="611.59" y2="634" stroke="#222" stroke-width="1.0" />
<text x="477" y="643.02" font-size="9.5" text-anchor="middle" fill="#111">SKUT-1</text>
<text x="313.53" y="675" font-size="9.8" text-anchor="middle" fill="#111" transform="rotate(-90 313.53 675)">Fold Induction</text>
<text x="358.63" y="735.3" font-size="9.6" text-anchor="end" fill="#111" transform="rotate(-44.8 358.63 735.3)">NT</text>
<text x="393.99" y="735.8" font-size="9.6" text-anchor="end" fill="#111" transform="rotate(-44.8 393.99 735.8)">wt E2F1</text>
<text x="429.66" y="735.8" font-size="9.6" text-anchor="end" fill="#111" transform="rotate(-44.8 429.66 735.8)">E2F1 S375A</text>
<text x="464.52" y="735.8" font-size="9.6" text-anchor="end" fill="#111" transform="rotate(-44.8 464.52 735.8)">E2F1 S375D</text>
<text x="500.58" y="735.8" font-size="9.6" text-anchor="end" fill="#111" transform="rotate(-44.8 500.58 735.8)">wtE2F1+CDK8</text>
<text x="535.44" y="735.8" font-size="9.6" text-anchor="end" fill="#111" transform="rotate(-44.8 535.44 735.8)">E2F1 S375A+CDK8</text>
<text x="572.11" y="735" font-size="9.6" text-anchor="end" fill="#111" transform="rotate(-44.8 572.11 735)">wt E2F1+CDK8 KD</text>
<text x="606.07" y="735" font-size="9.6" text-anchor="end" fill="#111" transform="rotate(-44.8 606.07 735)">E2F1 S375A+CDK8 KD</text>
<rect x="621.4" y="646" width="63" height="52.8" fill="#fff" stroke="#333" stroke-width="1"/>
<rect x="624.8" y="650.5" width="5" height="5" fill="#111"/>
<text x="632" y="656.42" font-size="9.5" text-anchor="start" fill="#111">p107</text>
<rect x="625.2" y="663.1" width="4.6" height="4.8" fill="url(#he1)" stroke="#111" stroke-width="0.8"/>
<text x="632" y="668.82" font-size="9.5" text-anchor="start" fill="#111">PCNA</text>
<rect x="625.2" y="675.5" width="4.6" height="4.8" fill="url(#he2)" stroke="#111" stroke-width="0.8"/>
<text x="632" y="681.22" font-size="9.5" text-anchor="start" fill="#111">TP73</text>
<rect x="625.2" y="688" width="4.6" height="4.8" fill="url(#he3)" stroke="#111" stroke-width="0.8"/>
<text x="632" y="693.72" font-size="9.5" text-anchor="start" fill="#111">CNNTBIP1</text>
</g>
</svg>
</body></html>
